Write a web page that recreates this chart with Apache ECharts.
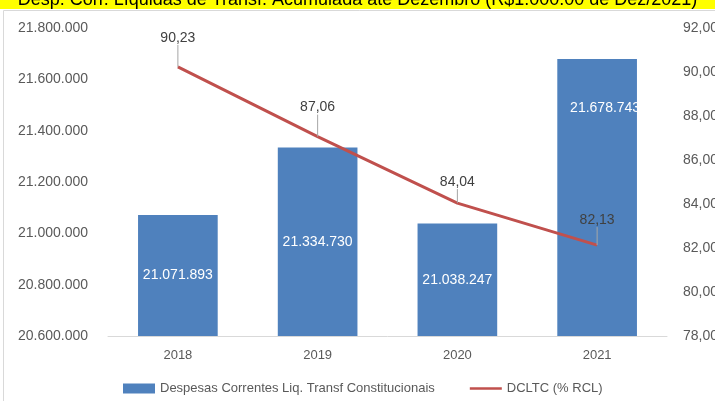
<!DOCTYPE html>
<html>
<head>
<meta charset="utf-8">
<script src="https://cdn.jsdelivr.net/npm/echarts@6/dist/echarts.min.js"></script>
<style>
  html, body { margin: 0; padding: 0; background: #fff; }
  #chart { width: 715px; height: 401px; }
</style>
</head>
<body>
<div id="chart"></div>
<script>
const years = ["2018", "2019", "2020", "2021"];
const despesas = [21071893, 21334730, 21038247, 21678743];
const dcltc = [90.23, 87.06, 84.04, 82.13];

const fmtMil = (v) => Math.round(v).toString().replace(/\B(?=(\d{3})+(?!\d))/g, ".");
const fmtPct = (v, d) => v.toFixed(d).replace(".", ",");

const myChart = echarts.init(document.getElementById("chart"));

// the last bar label sits near the top of its bar in the original
const barData = despesas.map((v, i) =>
  i === 3 ? { value: v, label: { offset: [8, -89] } } : v
);
// how far each line label is pushed up from its point
const lineLabelShift = [-20, -20, -12, -16];

myChart.setOption({
  animation: false,
  textStyle: { fontFamily: "Liberation Sans", color: "#595959" },
  title: {
    text: "Desp. Corr. Líquidas de Transf. Acumulada até Dezembro (R$1.000.00 de Dez/2021)",
    left: "center",
    top: -14,
    textStyle: { fontSize: 18, fontWeight: "normal", color: "#000", fontFamily: "Liberation Sans" },
  },
  graphic: [
    { type: "rect", z: -1, shape: { x: 0, y: 0, width: 715, height: 9 }, style: { fill: "#FFFF00" } },
    {
      type: "polyline", z: -1,
      shape: { points: [[3.5, 401], [3.5, 10.5], [715, 10.5]] },
      style: { stroke: "#D9D9D9", fill: null, lineWidth: 1 },
    },
  ],
  grid: { left: 108, right: 48, top: 28, bottom: 65, outerBoundsMode: "none" },
  legend: {
    bottom: 1,
    left: 118,
    itemGap: 35,
    itemWidth: 32,
    itemHeight: 10,
    textStyle: { fontSize: 13, color: "#595959" },
    data: [
      { name: "Despesas Correntes Liq. Transf Constitucionais", icon: "rect" },
      { name: "DCLTC (% RCL)", icon: "path://M0,3.5 L40,3.5 L40,6.5 L0,6.5 Z", itemStyle: { color: "#C0504D" } },
    ],
  },
  xAxis: {
    type: "category",
    data: years,
    axisLine: { lineStyle: { color: "#D9D9D9" } },
    axisTick: { show: false },
    axisLabel: { fontSize: 13, color: "#595959", margin: 13 },
  },
  yAxis: [
    {
      type: "value",
      min: 20600000,
      max: 21800000,
      interval: 200000,
      splitLine: { show: false },
      axisLabel: { fontSize: 14, color: "#595959", margin: 20, formatter: fmtMil },
    },
    {
      type: "value",
      min: 78,
      max: 92,
      interval: 2,
      splitLine: { show: false },
      axisLabel: { fontSize: 14, color: "#595959", margin: 16, formatter: (v) => fmtPct(v, 2) },
    },
  ],
  series: [
    {
      name: "Despesas Correntes Liq. Transf Constitucionais",
      type: "bar",
      data: barData,
      barWidth: "57%",
      itemStyle: { color: "#4F81BD" },
      label: {
        show: true,
        position: "inside",
        color: "#fff",
        fontSize: 14,
        formatter: (p) => fmtMil(p.value),
      },
    },
    {
      name: "DCLTC (% RCL)",
      type: "line",
      yAxisIndex: 1,
      data: dcltc,
      symbol: "circle",
      symbolSize: 0.1,
      itemStyle: { color: "#C0504D" },
      lineStyle: { color: "#C0504D", width: 3 },
      label: {
        show: true,
        position: "top",
        distance: 2,
        color: "#404040",
        fontSize: 14,
        formatter: (p) => fmtPct(p.value, 2),
      },
      labelLayout: (params) => ({ dy: lineLabelShift[params.dataIndex] }),
      labelLine: { show: true, lineStyle: { color: "#A6A6A6", width: 1 } },
    },
  ],
});
</script>
</body>
</html>
